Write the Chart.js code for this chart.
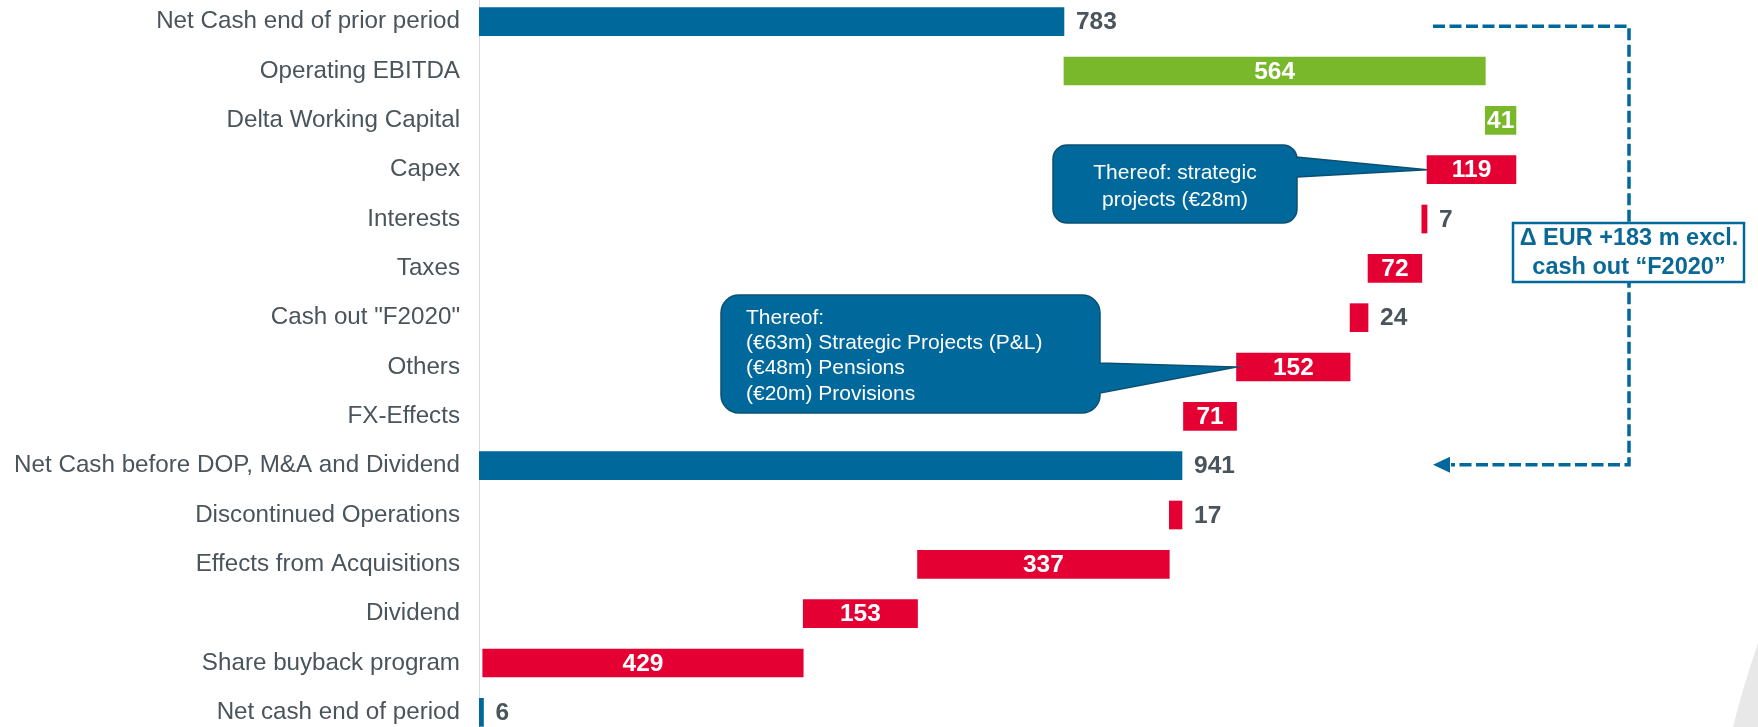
<!DOCTYPE html>
<html>
<head>
<meta charset="utf-8">
<script src="https://cdn.jsdelivr.net/npm/chart.js@4.4.0/dist/chart.umd.min.js"></script>
<style>
  html, body { margin: 0; padding: 0; background: #fff; overflow: hidden; width: 1758px; height: 727px; }
  #wrap { position: absolute; left: 0; top: -3px; width: 1758px; height: 740px; }
</style>
</head>
<body>
<div id="wrap"><canvas id="myChart"></canvas></div>
<script>
const labels = ['Net Cash end of prior period', 'Operating EBITDA', 'Delta Working Capital', 'Capex',
  'Interests', 'Taxes', 'Cash out "F2020"', 'Others', 'FX-Effects',
  'Net Cash before DOP, M&A and Dividend', 'Discontinued Operations', 'Effects from Acquisitions',
  'Dividend', 'Share buyback program', 'Net cash end of period'];
const kinds = ['total', 'up', 'up', 'down', 'down', 'down', 'down', 'down', 'down',
  'total', 'down', 'down', 'down', 'down', 'total'];
const amounts = [783, 564, 41, 119, 7, 72, 24, 152, 71, 941, 17, 337, 153, 429, 6];

const OFF = 3; // canvas is shifted up by 3px
const FONT = '"Liberation Sans", Arial, sans-serif';
const BLUE = '#00689a';
const GREEN = '#78b82a';
const RED = '#e40032';
const GREY = '#4a545b';

// floating bars: totals from zero, movements from the running total
let run = 0;
const ranges = amounts.map((v, i) => {
  if (kinds[i] === 'total') { run = v; return [0, v]; }
  if (kinds[i] === 'up') { const r = [run, run + v]; run += v; return r; }
  const r = [run - v, run]; run -= v; return r;
});
const colors = kinds.map(k => k === 'total' ? BLUE : (k === 'up' ? GREEN : RED));

const valueLabels = {
  id: 'valueLabels',
  afterDatasetsDraw(chart) {
    const ctx = chart.ctx;
    const meta = chart.getDatasetMeta(0);
    ctx.save();
    ctx.font = 'bold 24.5px ' + FONT;
    ctx.textBaseline = 'middle';
    meta.data.forEach((bar, i) => {
      const txt = String(amounts[i]);
      const w = ctx.measureText(txt).width;
      const left = Math.min(bar.x, bar.base), right = Math.max(bar.x, bar.base);
      if (kinds[i] !== 'total' && right - left >= w + 2) {
        ctx.fillStyle = '#fff';
        ctx.textAlign = 'center';
        ctx.fillText(txt, (left + right) / 2, bar.y + 1);
      } else {
        ctx.fillStyle = GREY;
        ctx.textAlign = 'left';
        ctx.fillText(txt, right + 12, bar.y + 1);
      }
    });
    ctx.restore();
  }
};

function bubblePath(ctx, x0, y0, x1, y1, r, b0, b1, tx, ty) {
  ctx.beginPath();
  ctx.moveTo(x0 + r, y0);
  ctx.lineTo(x1 - r, y0);
  ctx.arcTo(x1, y0, x1, y0 + r, r);
  ctx.lineTo(x1, b0);
  ctx.lineTo(tx, ty);
  ctx.lineTo(x1, b1);
  ctx.lineTo(x1, y1 - r);
  ctx.arcTo(x1, y1, x1 - r, y1, r);
  ctx.lineTo(x0 + r, y1);
  ctx.arcTo(x0, y1, x0, y1 - r, r);
  ctx.lineTo(x0, y0 + r);
  ctx.arcTo(x0, y0, x0 + r, y0, r);
  ctx.closePath();
}

const extras = {
  id: 'extras',
  afterDraw(chart) {
    const ctx = chart.ctx;
    const xs = chart.scales.x, ys = chart.scales.y;
    ctx.save();

    // corner decoration
    ctx.fillStyle = '#e8e8e8';
    ctx.beginPath();
    ctx.moveTo(1758, 643 + OFF);
    ctx.quadraticCurveTo(1742, 690 + OFF, 1733, 727 + OFF);
    ctx.lineTo(1758, 727 + OFF);
    ctx.closePath();
    ctx.fill();

    // callout 1 -> Capex
    ctx.fillStyle = BLUE;
    ctx.strokeStyle = '#0b5072';
    ctx.lineWidth = 1.5;
    bubblePath(ctx, 1053, 145 + OFF, 1297, 223 + OFF, 14, 157 + OFF, 177 + OFF,
      xs.getPixelForValue(ranges[3][0]), ys.getPixelForValue(3));
    ctx.fill(); ctx.stroke();
    ctx.fillStyle = '#fff';
    ctx.font = '21px ' + FONT;
    ctx.textAlign = 'center';
    ctx.textBaseline = 'middle';
    ctx.fillText('Thereof: strategic', 1175, 173 + OFF);
    ctx.fillText('projects (€28m)', 1175, 200 + OFF);

    // callout 2 -> Others
    ctx.fillStyle = BLUE;
    bubblePath(ctx, 721, 295 + OFF, 1100, 413 + OFF, 18, 363 + OFF, 393 + OFF,
      xs.getPixelForValue(ranges[7][0]), ys.getPixelForValue(7));
    ctx.fill(); ctx.stroke();
    ctx.fillStyle = '#fff';
    ctx.textAlign = 'left';
    ['Thereof:', '(€63m) Strategic Projects (P&L)', '(€48m) Pensions', '(€20m) Provisions']
      .forEach((t, k) => ctx.fillText(t, 746, 318 + k * 25.3 + OFF));

    // dashed bracket from first total to intermediate total
    const yTop = ys.getPixelForValue(0) + 4.5;
    const yBot = ys.getPixelForValue(9) - 1;
    ctx.strokeStyle = BLUE;
    ctx.lineWidth = 3.5;
    ctx.setLineDash([12, 4.5]);
    ctx.beginPath();
    ctx.moveTo(1433, yTop);
    ctx.lineTo(1629, yTop);
    ctx.lineTo(1629, yBot);
    ctx.lineTo(1451, yBot);
    ctx.stroke();
    ctx.setLineDash([]);
    ctx.fillStyle = BLUE;
    ctx.beginPath();
    ctx.moveTo(1433, yBot);
    ctx.lineTo(1450, yBot - 8);
    ctx.lineTo(1450, yBot + 8);
    ctx.closePath();
    ctx.fill();

    // delta box
    ctx.fillStyle = '#fff';
    ctx.fillRect(1513, 223 + OFF, 231, 59);
    ctx.strokeStyle = BLUE;
    ctx.lineWidth = 2.5;
    ctx.strokeRect(1513, 223 + OFF, 231, 59);
    ctx.fillStyle = '#0a6896';
    ctx.font = 'bold 23.5px ' + FONT;
    ctx.textAlign = 'center';
    ctx.fillText('Δ EUR +183 m excl.', 1629, 239 + OFF);
    ctx.fillText('cash out “F2020”', 1629, 268 + OFF);

    ctx.restore();
  }
};

const data = {
  labels: labels,
  datasets: [{
    data: ranges,
    backgroundColor: colors,
    borderWidth: 0,
    borderSkipped: false,
    barThickness: 28
  }]
};

const config = {
  type: 'bar',
  data: data,
  options: {
    indexAxis: 'y',
    responsive: true,
    maintainAspectRatio: false,
    animation: false,
    layout: { padding: 0 },
    plugins: {
      legend: { display: false },
      tooltip: { enabled: false }
    },
    scales: {
      x: { display: false, min: 0, max: 1712 },
      y: {
        grid: { display: false, drawTicks: false },
        border: { display: true, color: '#d9d9d9', width: 1 },
        ticks: {
          autoSkip: false,
          padding: 19,
          color: GREY,
          font: { family: FONT, size: 24.2 }
        },
        afterFit: s => { s.width = 479; s.paddingTop = 0; s.paddingBottom = 0; }
      }
    }
  },
  plugins: [valueLabels, extras]
};

var myChart = new Chart(document.getElementById('myChart'), config);
</script>
</body>
</html>
